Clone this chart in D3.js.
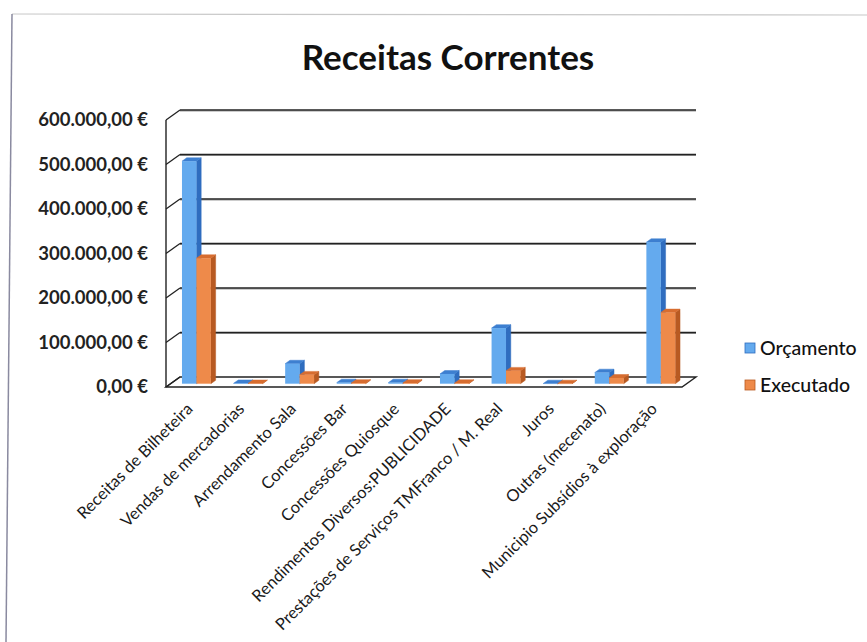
<!DOCTYPE html>
<html>
<head>
<meta charset="utf-8">
<script src="https://cdn.jsdelivr.net/npm/d3@7"></script>
<style>
  html, body { margin: 0; padding: 0; background: #fff; }
  svg { display: block; }
</style>
</head>
<body>
<svg id="chart" width="867" height="642"></svg>
<script>
const categories = [
  "Receitas de Bilheteira",
  "Vendas de mercadorias",
  "Arrendamento Sala",
  "Concessões Bar",
  "Concessões Quiosque",
  "Rendimentos Diversos:PUBLICIDADE",
  "Prestações de Serviços TMFranco / M. Real",
  "Juros",
  "Outras (mecenato)",
  "Municipio Subsídios à exploração"
];
const orcamento = [500000, 800, 45000, 2500, 2500, 22000, 125000, 300, 25000, 318000];
const executado = [282000, 600, 20000, 1500, 1500, 1200, 29000, 200, 13000, 160000];
const seriesNames = ["Orçamento", "Executado"];
const yTicks = [0, 100000, 200000, 300000, 400000, 500000, 600000];

const svg = d3.select("#chart");

// frame lines (scanned border)
svg.append("line").attr("x1", 12).attr("y1", 14).attr("x2", 867).attr("y2", 15)
  .attr("stroke", "#c8c8c8").attr("stroke-width", 1.2);
svg.append("line").attr("x1", 12).attr("y1", 14).attr("x2", 6).attr("y2", 642)
  .attr("stroke", "#8a8aa0").attr("stroke-width", 1.5);

// title
svg.append("text").attr("x", 448).attr("y", 70).attr("text-anchor", "middle")
  .attr("font-family", "Lato, 'Open Sans', sans-serif").attr("font-weight", 700)
  .attr("font-size", 35).attr("fill", "#111").text("Receitas Correntes");

// 3D geometry
const x = d3.scaleBand().domain(categories).range([166, 682]);
const y = d3.scaleLinear().domain([0, 600000]).range([387, 120]);
const DX = 14, DY = -10;
const P = (px, v, z) => [px + z * DX, y(v) + z * DY];
const poly = pts => "M" + pts.map(p => p.join(",")).join("L") + "Z";

const g = svg.append("g");

// floor
g.append("path")
  .attr("d", poly([P(166, 0, 0), P(682, 0, 0), P(682, 0, 1), P(166, 0, 1)]))
  .attr("fill", "#fff").attr("stroke", "#222").attr("stroke-width", 1.4);

// gridlines on back wall + left wall diagonals
yTicks.forEach(t => {
  const a = P(166, t, 1), b = P(682, t, 1), c = P(166, t, 0);
  if (t > 0) {
    g.append("line").attr("x1", a[0]).attr("y1", a[1] + 1).attr("x2", b[0]).attr("y2", b[1] + 1)
      .attr("stroke", "#999").attr("stroke-width", 1);
    g.append("line").attr("x1", a[0]).attr("y1", a[1]).attr("x2", b[0]).attr("y2", b[1])
      .attr("stroke", "#222").attr("stroke-width", 1.5);
  }
  g.append("line").attr("x1", c[0]).attr("y1", c[1]).attr("x2", a[0]).attr("y2", a[1])
    .attr("stroke", "#222").attr("stroke-width", 1.3);
});
// left axis (front edge of left wall)
g.append("line").attr("x1", 166).attr("y1", y(0)).attr("x2", 166).attr("y2", y(600000))
  .attr("stroke", "#222").attr("stroke-width", 1.4);

// y tick labels
svg.append("g").selectAll("text").data(yTicks).join("text")
  .attr("x", 148).attr("y", d => y(d) + 6).attr("text-anchor", "end")
  .attr("font-family", "Lato, 'Open Sans', sans-serif").attr("font-weight", 700)
  .attr("font-size", 18.5).attr("fill", "#222")
  .text(d => d3.format(",.2f")(d).replace(/,/g, "#").replace(/\./g, ",").replace(/#/g, ".") + " €");

// bars
const colors = [
  { front: "#64aaee", side: "#2f6dbf", top: "#3d7fd0" },
  { front: "#ee8a4a", side: "#b85a22", top: "#d76d30" }
];
const bw = x.bandwidth() * 0.28;
const z0 = 0.33, z1 = 0.67;
const barsG = svg.append("g");
categories.forEach((c, i) => {
  [orcamento[i], executado[i]].forEach((v, s) => {
    const x0 = x(c) + x.bandwidth() / 2 - bw + s * bw;
    const x1 = x0 + bw;
    const col = colors[s];
    const bg = barsG.append("g");
    bg.append("path").attr("d", poly([P(x1, 0, z0), P(x1, v, z0), P(x1, v, z1), P(x1, 0, z1)]))
      .attr("fill", col.side).attr("stroke", col.side).attr("stroke-width", 0.5);
    bg.append("path").attr("d", poly([P(x0, v, z0), P(x1, v, z0), P(x1, v, z1), P(x0, v, z1)]))
      .attr("fill", col.top).attr("stroke", col.top).attr("stroke-width", 0.5);
    const f0 = P(x0, v, z0), f1 = P(x1, 0, z0);
    bg.append("rect").attr("x", f0[0]).attr("y", f0[1])
      .attr("width", f1[0] - f0[0]).attr("height", Math.max(0, f1[1] - f0[1]))
      .attr("fill", col.front);
  });
});

// category labels
svg.append("g").selectAll("text").data(categories).join("text")
  .attr("transform", d => `translate(${x(d) + x.bandwidth() / 2 + 2},${410}) rotate(-45)`)
  .attr("text-anchor", "end")
  .attr("font-family", "Lato, 'Open Sans', sans-serif")
  .attr("font-size", 16.5).attr("fill", "#1a1a1a")
  .text(d => d);

// legend
const leg = svg.append("g");
seriesNames.forEach((n, i) => {
  const yy = 348 + i * 37;
  leg.append("rect").attr("x", 745).attr("y", yy - 5).attr("width", 10).attr("height", 10)
    .attr("fill", colors[i].front).attr("stroke", colors[i].side).attr("stroke-width", 0.8);
  leg.append("text").attr("x", 760).attr("y", yy + 7)
    .attr("font-family", "Lato, 'Open Sans', sans-serif").attr("font-weight", 500)
    .attr("font-size", 19.5).attr("fill", "#111").text(n);
});
</script>
</body>
</html>
